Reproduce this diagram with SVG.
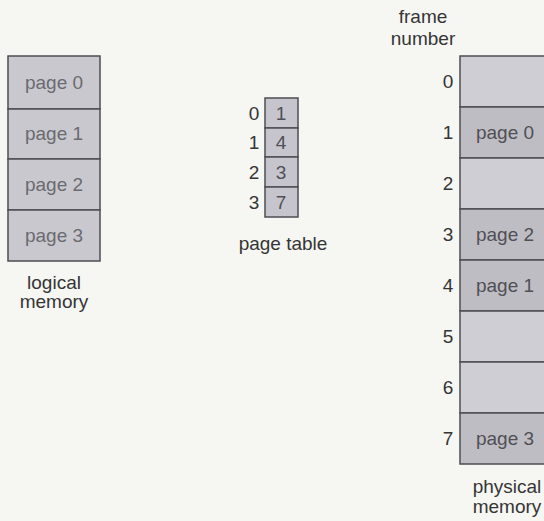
<svg xmlns="http://www.w3.org/2000/svg" width="544" height="521" viewBox="0 0 544 521">
<style>
text{font-family:"Liberation Sans",Arial,sans-serif;font-size:19px;text-anchor:middle}
.cap{fill:#353535}
.num{fill:#353535}
.lbl{fill:#6b6b70}
.plbl{fill:#505055}
.cell{fill:#c9c8cf;stroke:#4d4d52;stroke-width:1.5}
.full{fill:#bebdc4;stroke:#4d4d52;stroke-width:1.5}
.empty{fill:#cfced5;stroke:#4d4d52;stroke-width:1.5}
.pt{fill:#c6c5cd;stroke:#4d4d52;stroke-width:1.5}
</style>
<rect width="544" height="521" fill="#f6f6f3"/>
<g id="logical-memory">
<rect class="cell" x="8" y="56" width="92" height="53"/>
<rect class="cell" x="8" y="109" width="92" height="50"/>
<rect class="cell" x="8" y="159" width="92" height="51"/>
<rect class="cell" x="8" y="210" width="92" height="51"/>
<text class="lbl" x="54" y="89">page 0</text>
<text class="lbl" x="54" y="140">page 1</text>
<text class="lbl" x="54" y="191">page 2</text>
<text class="lbl" x="54" y="242">page 3</text>
<text class="cap" x="54" y="289">logical</text>
<text class="cap" x="54" y="308">memory</text>
</g>
<g id="page-table">
<rect class="pt" x="265" y="98" width="33" height="30"/>
<rect class="pt" x="265" y="128" width="33" height="29"/>
<rect class="pt" x="265" y="157" width="33" height="30"/>
<rect class="pt" x="265" y="187" width="33" height="30"/>
<text class="num" x="254" y="120">0</text>
<text class="num" x="254" y="149">1</text>
<text class="num" x="254" y="179">2</text>
<text class="num" x="254" y="209">3</text>
<text class="plbl" x="281" y="120">1</text>
<text class="plbl" x="281" y="149">4</text>
<text class="plbl" x="281" y="179">3</text>
<text class="plbl" x="281" y="209">7</text>
<text class="cap" x="283" y="250">page table</text>
</g>
<g id="physical-memory">
<text class="cap" x="423" y="23">frame</text>
<text class="cap" x="423" y="45">number</text>
<rect class="empty" x="460" y="56" width="94" height="51"/>
<rect class="full" x="460" y="107" width="94" height="51"/>
<rect class="empty" x="460" y="158" width="94" height="51"/>
<rect class="full" x="460" y="209" width="94" height="51"/>
<rect class="full" x="460" y="260" width="94" height="51"/>
<rect class="empty" x="460" y="311" width="94" height="51"/>
<rect class="empty" x="460" y="362" width="94" height="51"/>
<rect class="full" x="460" y="413" width="94" height="51"/>
<text class="num" x="448" y="88">0</text>
<text class="num" x="448" y="139">1</text>
<text class="num" x="448" y="190">2</text>
<text class="num" x="448" y="241">3</text>
<text class="num" x="448" y="292">4</text>
<text class="num" x="448" y="343">5</text>
<text class="num" x="448" y="394">6</text>
<text class="num" x="448" y="445">7</text>
<text class="plbl" x="505" y="139">page 0</text>
<text class="plbl" x="505" y="241">page 2</text>
<text class="plbl" x="505" y="292">page 1</text>
<text class="plbl" x="505" y="445">page 3</text>
<text class="cap" x="507" y="493">physical</text>
<text class="cap" x="507" y="513">memory</text>
</g>
<g id="connectors"/>
</svg>
